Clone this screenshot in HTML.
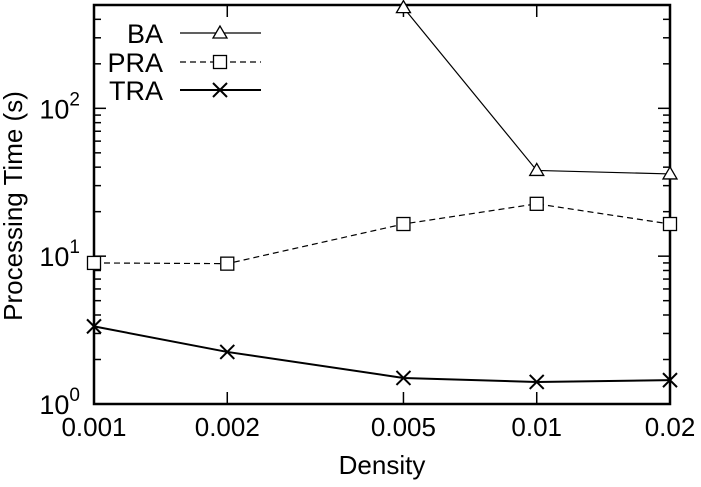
<!DOCTYPE html>
<html><head><meta charset="utf-8"><style>
body{margin:0;background:#fff}
svg text{font-family:"Liberation Sans",Arial,sans-serif;fill:#000}
</style></head><body>
<svg id="c" width="701" height="482" xmlns="http://www.w3.org/2000/svg"></svg>
<script>
const categories=[0.001,0.002,0.005,0.01,0.02];
const xTickLabels=["0.001","0.002","0.005","0.01","0.02"];
const baX=[0.005,0.01,0.02];
const baVals=[480,38,36];
const praVals=[9.0,8.9,16.5,22.6,16.5];
const traVals=[3.35,2.25,1.5,1.41,1.45];
const yTickExps=[0,1,2];

const L=94,R=670,T=5,B=404;
const xmin=0.001,xmax=0.02,ymin=1,ymax=500;
const NS="http://www.w3.org/2000/svg";
const svg=document.getElementById('c');
function xs(v){return L+(Math.log10(v)-Math.log10(xmin))/(Math.log10(xmax)-Math.log10(xmin))*(R-L);}
function ys(v){return B-(Math.log10(v)-Math.log10(ymin))/(Math.log10(ymax)-Math.log10(ymin))*(B-T);}
function mk(tag,attrs,parent){const e=document.createElementNS(NS,tag);for(const k in attrs)e.setAttribute(k,attrs[k]);(parent||svg).appendChild(e);return e;}

const gy=mk('g',{});


for(let d=0;d<3;d++){for(let m=1;m<10;m++){const v=Math.pow(10,d)*m;if(v>ymax)break;const y=ys(v);const len=m===1?12:7;
mk('line',{x1:L,y1:y,x2:L+len,y2:y,stroke:'#000','stroke-width':1.5},gy);
mk('line',{x1:R,y1:y,x2:R-len,y2:y,stroke:'#000','stroke-width':1.5},gy);}}
yTickExps.forEach(e=>{const t=mk('text',{x:L-14,y:ys(Math.pow(10,e))+10,'text-anchor':'end','font-size':27},gy);


t.innerHTML='10<tspan dy="-13" font-size="19">'+e+'</tspan>';});
const gx=mk('g',{});


categories.forEach((c,i)=>{const x=xs(c);
mk('line',{x1:x,y1:B,x2:x,y2:B-12,stroke:'#000','stroke-width':1.5},gx);
mk('line',{x1:x,y1:T,x2:x,y2:T+12,stroke:'#000','stroke-width':1.5},gx);
const t=mk('text',{x:x,y:B+32,'text-anchor':'middle','font-size':26},gx);


t.textContent=xTickLabels[i];});
const fr=mk('rect',{x:L,y:T,width:R-L,height:B-T,fill:'none',stroke:'#000','stroke-width':2.5});


const yt=mk('text',{x:0,y:0,'text-anchor':'middle','font-size':26,transform:'translate(22,206) rotate(-90)'});


yt.textContent='Processing Time (s)';
const xt=mk('text',{x:382,y:474,'text-anchor':'middle','font-size':26});


xt.textContent='Density';

function marker(type,x,y,g){
 if(type==='tri')mk('polygon',{points:`${x},${y-7} ${x-7},${y+5} ${x+7},${y+5}`,fill:'#fff',stroke:'#000','stroke-width':1.3},g);
 else if(type==='sq')mk('rect',{x:x-6.5,y:y-6.5,width:13,height:13,fill:'#fff',stroke:'#000','stroke-width':1.3},g);
 else {mk('path',{d:`M${x-7},${y-7}L${x+7},${y+7}M${x-7},${y+7}L${x+7},${y-7}`,stroke:'#000','stroke-width':2},g);}
}
function series(name,xsArr,vals,type,dash,w){
 const g=mk('g',{});
 
 
 const pts=xsArr.map((c,i)=>xs(c)+','+ys(vals[i])).join(' ');
 mk('polyline',{points:pts,fill:'none',stroke:'#000','stroke-width':w,'stroke-dasharray':dash},g);
 xsArr.forEach((c,i)=>marker(type,xs(c),ys(vals[i]),g));
}
series('ba',baX,baVals,'tri','none',1.2);
series('pra',categories,praVals,'sq','6,4',1.2);
series('tra',categories,traVals,'x','none',2);

const legend=[['BA','tri','none',1.2,33],['PRA','sq','6,4',1.2,62],['TRA','x','none',2,90]];
legend.forEach(l=>{const g=mk('g',{});
 
 
 const t=mk('text',{x:163,y:l[4]+10,'text-anchor':'end','font-size':27},g);t.textContent=l[0];
 mk('line',{x1:180,y1:l[4],x2:261,y2:l[4],stroke:'#000','stroke-width':l[3],'stroke-dasharray':l[2]},g);
 marker(l[1],220,l[4],g);});
</script>
</body></html>
